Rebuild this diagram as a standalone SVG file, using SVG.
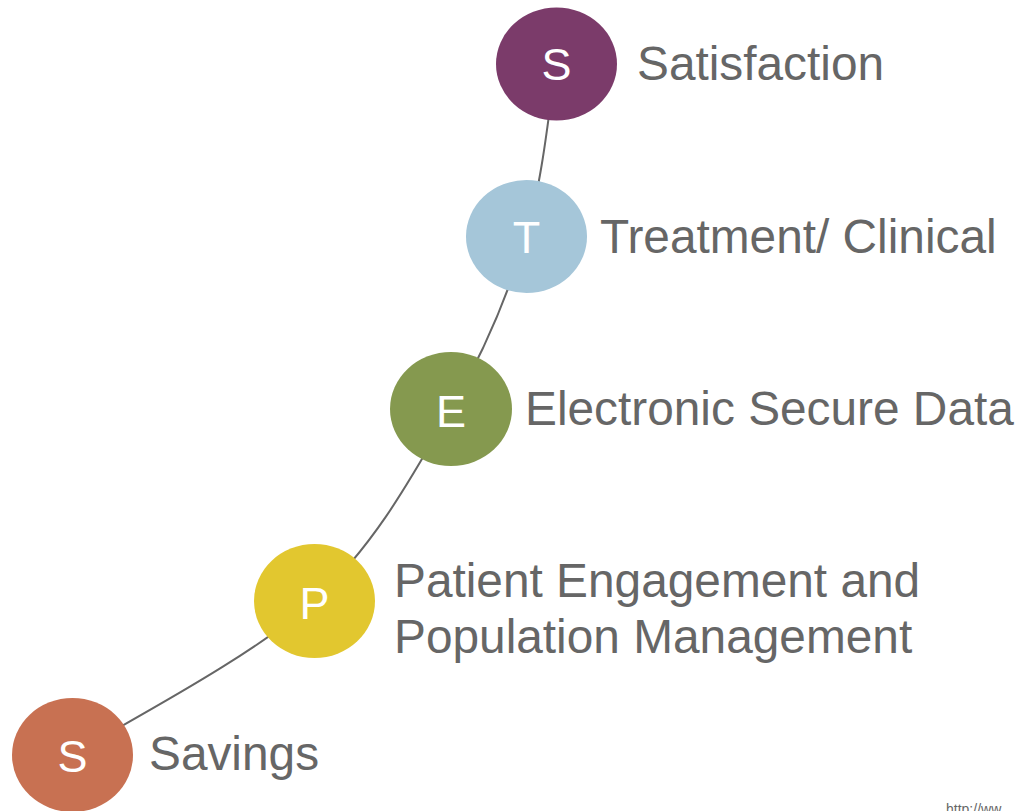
<svg xmlns="http://www.w3.org/2000/svg" width="1021" height="811" viewBox="0 0 1021 811">
  <style>
    .node-letter { font-family: "Liberation Sans", Arial, sans-serif; font-size: 45px; fill: #ffffff; text-anchor: middle; }
    .label { font-family: "Liberation Sans", Arial, sans-serif; font-size: 47.8px; fill: #666666; }
    .link { fill: none; stroke: #666666; stroke-width: 2; }
    .source { font-family: "Liberation Sans", Arial, sans-serif; font-size: 14px; fill: #666666; }
  </style>
  <rect width="1021" height="811" fill="#ffffff"/>

  <!-- curved path linking the milestones -->
  <g id="connectors">
    <path class="link" d="M72,755 C112.3,729.3 250.8,658.7 314,601 C377.2,543.3 415.7,469.8 451,409 C486.3,348.2 508.5,293.5 526,236 C543.5,178.5 551,92.7 556,64"/>
  </g>

  <g id="node-savings">
    <ellipse cx="72.5" cy="755" rx="60.5" ry="57" fill="#C87152"/>
    <text class="node-letter" x="72.5" y="772">S</text>
    <text class="label" x="149" y="770">Savings</text>
  </g>

  <g id="node-patient">
    <ellipse cx="314.5" cy="601" rx="60.5" ry="57" fill="#E2C72F"/>
    <text class="node-letter" x="314.5" y="619">P</text>
    <text class="label" x="394" y="597">Patient Engagement and</text>
    <text class="label" x="394" y="653">Population Management</text>
  </g>

  <g id="node-electronic">
    <ellipse cx="451" cy="409" rx="61" ry="57" fill="#85994F"/>
    <text class="node-letter" x="451" y="427">E</text>
    <text class="label" x="525" y="425">Electronic Secure Data</text>
  </g>

  <g id="node-treatment">
    <ellipse cx="526.5" cy="236.5" rx="60.5" ry="56.5" fill="#A5C6D9"/>
    <text class="node-letter" x="526.5" y="253">T</text>
    <text class="label" x="600" y="253">Treatment/ Clinical</text>
  </g>

  <g id="node-satisfaction">
    <ellipse cx="556.5" cy="64" rx="60.5" ry="56.5" fill="#7B3B6A"/>
    <text class="node-letter" x="556.5" y="80">S</text>
    <text class="label" x="637" y="80">Satisfaction</text>
  </g>

  <text class="source" x="946" y="814">http://ww</text>
</svg>
